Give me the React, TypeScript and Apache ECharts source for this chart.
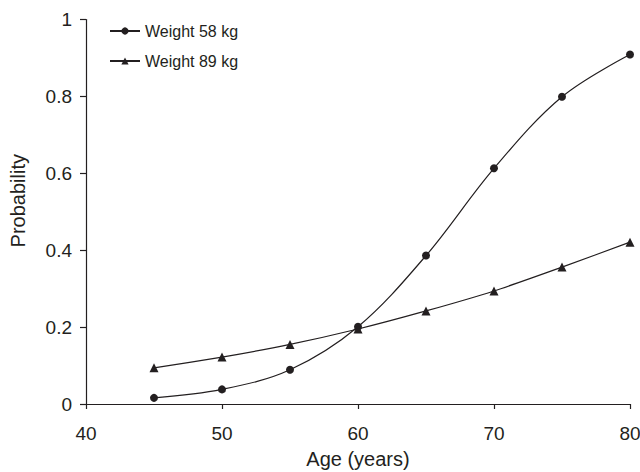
import React, { useEffect, useRef } from "react";
import * as echarts from "echarts";

const ages = [45, 50, 55, 60, 65, 70, 75, 80];
const weight58 = [0.016, 0.038, 0.089, 0.201, 0.386, 0.613, 0.799, 0.909];
const weight89 = [0.094, 0.122, 0.155, 0.195, 0.242, 0.294, 0.356, 0.421];
const seriesNames = ["Weight 58 kg", "Weight 89 kg"];

const INK = "#231f20";
const FONT = "Liberation Sans, Arial, Helvetica, sans-serif";

export default function App() {
  const ref = useRef<HTMLDivElement>(null);
  useEffect(() => {
    if (!ref.current) return;
    const chart = echarts.init(ref.current, undefined, { renderer: "svg" });
    chart.setOption({
      animation: false,
      backgroundColor: "#ffffff",
      textStyle: { fontFamily: FONT, color: INK },
      grid: {
        left: 86,
        right: 10,
        top: 19.5,
        bottom: 68,
        containLabel: false,
        outerBoundsMode: "none",
      },
      legend: {
        orient: "vertical",
        left: 104,
        top: 18,
        itemWidth: 30,
        itemHeight: 9,
        itemGap: 14,
        textStyle: { fontSize: 16, color: INK, fontFamily: FONT, lineHeight: 16 },
        data: seriesNames,
      },
      xAxis: {
        type: "value",
        min: 40,
        max: 80,
        interval: 10,
        name: "Age (years)",
        nameLocation: "middle",
        nameGap: 45,
        nameTextStyle: { fontSize: 20, color: INK, fontFamily: FONT },
        axisLine: { lineStyle: { color: INK, width: 1.2 } },
        axisTick: { inside: false, length: 5, lineStyle: { color: INK, width: 1.2 } },
        axisLabel: { fontSize: 19, color: INK, margin: 20, fontFamily: FONT },
        splitLine: { show: false },
      },
      yAxis: {
        type: "value",
        min: 0,
        max: 1,
        interval: 0.2,
        name: "Probability",
        nameLocation: "middle",
        nameGap: 58,
        nameTextStyle: { fontSize: 20, color: INK, fontFamily: FONT, padding: [0, 0, 0, 22] },
        axisLine: { show: true, lineStyle: { color: INK, width: 1.2 } },
        axisTick: { show: true, inside: false, length: 6, lineStyle: { color: INK, width: 1.2 } },
        axisLabel: {
          fontSize: 19,
          color: INK,
          margin: 14,
          fontFamily: FONT,
          formatter: (v: number) => (v === 0 || v === 1 ? String(v) : String(Math.round(v * 10) / 10)),
        },
        splitLine: { show: false },
      },
      series: [
        {
          name: seriesNames[0],
          type: "line",
          data: ages.map((a, i) => [a, weight58[i]]),
          smooth: 0.35,
          symbol: "circle",
          symbolSize: 8,
          itemStyle: { color: INK },
          lineStyle: { color: INK, width: 1.2 },
        },
        {
          name: seriesNames[1],
          type: "line",
          data: ages.map((a, i) => [a, weight89[i]]),
          smooth: 0.2,
          symbol: "triangle",
          symbolSize: 9,
          itemStyle: { color: INK },
          lineStyle: { color: INK, width: 1.2 },
        },
      ],
    });
    return () => chart.dispose();
  }, []);
  return (
    <div
      ref={ref}
      style={{ position: "fixed", left: 0, top: 0, width: 640, height: 472 }}
    />
  );
}
